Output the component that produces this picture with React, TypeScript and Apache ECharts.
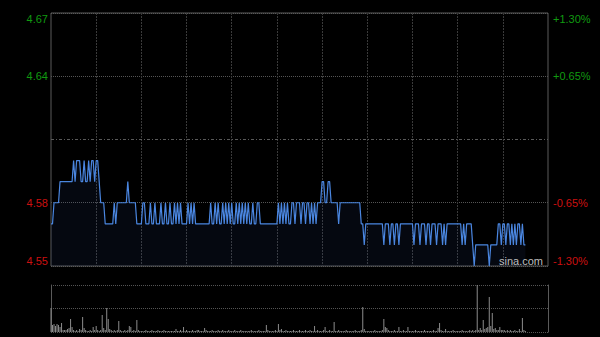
import React, { useEffect, useRef } from "react";
import * as echarts from "echarts";

const prevClose = 4.61;
const yTicks = [4.55, 4.58, 4.61, 4.64, 4.67];

const prices = [
  4.57, 4.57, 4.58, 4.58, 4.58, 4.58, 4.59, 4.59, 4.59, 4.59,
  4.59, 4.59, 4.59, 4.59, 4.59, 4.60, 4.59, 4.60, 4.60, 4.60,
  4.59, 4.59, 4.60, 4.59, 4.59, 4.60, 4.59, 4.60, 4.60, 4.59,
  4.60, 4.60, 4.59, 4.58, 4.58, 4.58, 4.57, 4.57, 4.57, 4.57,
  4.57, 4.57, 4.58, 4.57, 4.58, 4.58, 4.58, 4.58, 4.58, 4.58,
  4.58, 4.59, 4.58, 4.58, 4.58, 4.58, 4.58, 4.57, 4.57, 4.57,
  4.57, 4.58, 4.58, 4.57, 4.57, 4.57, 4.58, 4.57, 4.57, 4.58,
  4.57, 4.57, 4.57, 4.58, 4.57, 4.57, 4.58, 4.57, 4.57, 4.58,
  4.57, 4.57, 4.58, 4.57, 4.58, 4.57, 4.58, 4.57, 4.57, 4.57,
  4.57, 4.58, 4.57, 4.58, 4.57, 4.58, 4.57, 4.57, 4.57, 4.57,
  4.57, 4.57, 4.57, 4.57, 4.57, 4.57, 4.58, 4.57, 4.57, 4.58,
  4.57, 4.58, 4.57, 4.57, 4.58, 4.57, 4.58, 4.57, 4.58, 4.57,
  4.58, 4.57, 4.57, 4.58, 4.57, 4.58, 4.57, 4.58, 4.57, 4.58,
  4.57, 4.58, 4.57, 4.57, 4.58, 4.57, 4.57, 4.58, 4.58, 4.57,
  4.57, 4.57, 4.57, 4.57, 4.57, 4.57, 4.57, 4.57, 4.57, 4.57,
  4.57, 4.58, 4.57, 4.58, 4.57, 4.58, 4.57, 4.58, 4.57, 4.57,
  4.58, 4.58, 4.57, 4.58, 4.58, 4.58, 4.57, 4.58, 4.58, 4.57,
  4.58, 4.58, 4.57, 4.58, 4.57, 4.58, 4.57, 4.58, 4.58, 4.58,
  4.59, 4.59, 4.58, 4.58, 4.59, 4.59, 4.58, 4.58, 4.58, 4.58,
  4.58, 4.57, 4.58, 4.58, 4.58, 4.58, 4.58, 4.58, 4.58, 4.58,
  4.58, 4.58, 4.58, 4.58, 4.58, 4.58, 4.57, 4.57, 4.56, 4.57,
  4.57, 4.57, 4.57, 4.57, 4.57, 4.57, 4.57, 4.57, 4.57, 4.57,
  4.57, 4.56, 4.57, 4.57, 4.57, 4.56, 4.57, 4.57, 4.56, 4.57,
  4.57, 4.56, 4.57, 4.57, 4.57, 4.57, 4.57, 4.57, 4.57, 4.57,
  4.57, 4.56, 4.57, 4.57, 4.57, 4.56, 4.57, 4.57, 4.57, 4.56,
  4.57, 4.57, 4.56, 4.57, 4.57, 4.57, 4.56, 4.57, 4.57, 4.57,
  4.56, 4.57, 4.56, 4.57, 4.57, 4.57, 4.57, 4.57, 4.57, 4.57,
  4.57, 4.57, 4.57, 4.56, 4.57, 4.56, 4.57, 4.57, 4.57, 4.57,
  4.56, 4.55, 4.56, 4.56, 4.56, 4.56, 4.56, 4.56, 4.56, 4.56,
  4.56, 4.55, 4.56, 4.56, 4.56, 4.56, 4.56, 4.57, 4.57, 4.56,
  4.57, 4.57, 4.56, 4.57, 4.57, 4.56, 4.57, 4.56, 4.57, 4.56,
  4.57, 4.57, 4.56, 4.57, 4.56, 4.56,
];

const volumes = [
  24, 7, 8, 6, 8, 7, 5, 9, 2, 2,
  2, 3, 4, 13, 5, 2, 1, 2, 1, 3,
  2, 15, 4, 2, 1, 1, 2, 1, 5, 2,
  6, 2, 1, 2, 17, 4, 2, 24, 13, 3,
  2, 1, 2, 1, 2, 11, 2, 1, 1, 2,
  1, 2, 6, 5, 1, 2, 1, 12, 2, 1,
  1, 1, 1, 2, 1, 1, 1, 2, 1, 1,
  1, 2, 1, 1, 1, 2, 1, 1, 1, 1,
  1, 1, 1, 3, 1, 1, 2, 1, 5, 1,
  2, 1, 1, 1, 2, 1, 1, 2, 2, 1,
  1, 1, 4, 2, 1, 1, 1, 2, 1, 1,
  1, 2, 1, 1, 2, 1, 1, 1, 2, 1,
  1, 1, 2, 1, 1, 1, 2, 1, 1, 1,
  1, 1, 1, 2, 1, 1, 1, 1, 2, 1,
  1, 1, 1, 7, 2, 1, 1, 1, 1, 2,
  1, 8, 2, 3, 1, 1, 2, 1, 1, 1,
  1, 2, 1, 1, 1, 2, 1, 1, 1, 2,
  1, 1, 2, 1, 1, 6, 1, 2, 1, 1,
  1, 2, 5, 1, 1, 2, 1, 1, 10, 1,
  1, 2, 1, 1, 1, 1, 2, 1, 1, 1,
  1, 1, 2, 1, 1, 1, 2, 25, 3, 1,
  1, 1, 1, 1, 1, 2, 1, 1, 1, 1,
  2, 13, 5, 4, 2, 1, 1, 1, 2, 1,
  1, 5, 1, 1, 2, 1, 1, 5, 1, 1,
  1, 1, 2, 1, 1, 1, 1, 1, 2, 1,
  1, 1, 1, 1, 2, 1, 1, 4, 9, 2,
  1, 1, 3, 1, 1, 1, 1, 2, 1, 1,
  1, 1, 1, 2, 1, 1, 1, 1, 2, 1,
  2, 1, 2, 47, 2, 4, 2, 12, 3, 4,
  5, 35, 6, 19, 3, 4, 2, 2, 5, 2,
  2, 2, 1, 2, 1, 2, 1, 1, 2, 1,
  1, 3, 1, 14, 2, 1,
];

function buildTimes(): string[] {
  const out: string[] = [];
  const pad = (n: number) => (n < 10 ? "0" + n : "" + n);
  for (let m = 9 * 60 + 30; m <= 12 * 60; m++) out.push(pad(Math.floor(m / 60)) + ":" + pad(m % 60));
  for (let m = 13 * 60 + 1; m <= 16 * 60; m++) out.push(pad(Math.floor(m / 60)) + ":" + pad(m % 60));
  return out;
}
const times = buildTimes();

const GREEN = "#109a10";
const RED = "#cc1010";
const FONT = "Liberation Sans, Arial, sans-serif";

export default function App() {
  const ref = useRef<HTMLDivElement>(null);
  useEffect(() => {
    document.body.style.margin = "0";
    document.body.style.background = "#000";
    const chart = echarts.init(ref.current!, null, { renderer: "svg" });
    const isMid = (v: number) => Math.abs(v - prevClose) < 1e-6;
    const labelColor = (v: any) => (Number(v) > prevClose ? GREEN : RED);
    chart.setOption({
      animation: false,
      backgroundColor: "#000",
      grid: [
        { left: 51, right: 52, top: 13, height: 253, show: true, borderColor: "#5a5a5a", borderWidth: 1 },
        { left: 51, right: 52, top: 285, height: 47 },
      ],
      xAxis: [
        {
          type: "category",
          gridIndex: 0,
          data: times,
          boundaryGap: false,
          axisLine: { show: false },
          axisTick: { show: false },
          axisLabel: { show: false },
          splitLine: {
            show: true,
            interval: (i: number) => i % 30 === 0 && i !== 0 && i !== times.length - 1,
            lineStyle: { color: "#3a3a3a", type: [2, 1], width: 1 },
          },
        },
        {
          type: "category",
          gridIndex: 1,
          data: times,
          boundaryGap: false,
          axisLine: { show: false },
          axisTick: { show: false },
          axisLabel: { show: false },
          splitLine: { show: false },
        },
      ],
      yAxis: [
        {
          type: "value",
          gridIndex: 0,
          min: yTicks[0],
          max: yTicks[yTicks.length - 1],
          interval: 0.03,
          axisLine: { show: false },
          axisTick: { show: false },
          axisLabel: {
            margin: 3,
            fontSize: 11,
            fontFamily: FONT,
            color: labelColor,
            verticalAlignMinLabel: "bottom",
            verticalAlignMaxLabel: "top",
            formatter: (v: number) => (isMid(v) ? "" : v.toFixed(2)),
          },
          splitLine: {
            show: true,
            lineStyle: { color: ["#5a5a5a", "#555", "rgba(0,0,0,0)", "#555", "#5a5a5a"], type: [1, 1], width: 1 },
          },
        },
        {
          type: "value",
          gridIndex: 0,
          position: "right",
          min: yTicks[0],
          max: yTicks[yTicks.length - 1],
          interval: 0.03,
          axisLine: { show: false },
          axisTick: { show: false },
          axisLabel: {
            margin: 5,
            fontSize: 11,
            fontFamily: FONT,
            color: labelColor,
            verticalAlignMinLabel: "bottom",
            verticalAlignMaxLabel: "top",
            formatter: (v: number) => {
              if (isMid(v)) return "";
              const p = ((v - prevClose) / prevClose) * 100;
              return (p > 0 ? "+" : "") + p.toFixed(2) + "%";
            },
          },
          splitLine: { show: false },
        },
        {
          type: "value",
          gridIndex: 1,
          min: 0,
          max: 47,
          interval: 23.5,
          axisLine: { show: true, lineStyle: { color: "#5a5a5a" } },
          axisTick: { show: false },
          axisLabel: { show: false },
          splitLine: { show: true, lineStyle: { color: "#555", type: [1, 1] } },
        },
        {
          type: "value",
          gridIndex: 1,
          position: "right",
          min: 0,
          max: 47,
          interval: 23.5,
          axisLine: { show: true, lineStyle: { color: "#5a5a5a" } },
          axisTick: { show: false },
          axisLabel: { show: false },
          splitLine: { show: false },
        },
      ],
      series: [
        {
          type: "line",
          xAxisIndex: 0,
          yAxisIndex: 0,
          data: prices,
          showSymbol: false,
          symbol: "none",
          lineStyle: { color: "#4a86e0", width: 1.2 },
          areaStyle: { color: "rgba(40,70,140,0.16)", origin: "start" },
          markLine: {
            silent: true,
            symbol: "none",
            label: { show: false },
            lineStyle: { color: "#5a5a5a", type: [3, 2, 1, 2], width: 1 },
            data: [{ yAxis: prevClose }],
          },
        },
        {
          type: "bar",
          xAxisIndex: 1,
          yAxisIndex: 2,
          data: volumes,
          barWidth: 1,
          itemStyle: { color: "#8c8c8c" },
        },
      ],
      graphic: [
        {
          type: "text",
          left: 499,
          top: 255,
          style: { text: "sina.com", fill: "#bdbdbd", font: "11px " + FONT },
          z: 100,
        },
      ],
    });
    return () => chart.dispose();
  }, []);
  return <div ref={ref} style={{ width: 600, height: 337, background: "#000" }} />;
}
